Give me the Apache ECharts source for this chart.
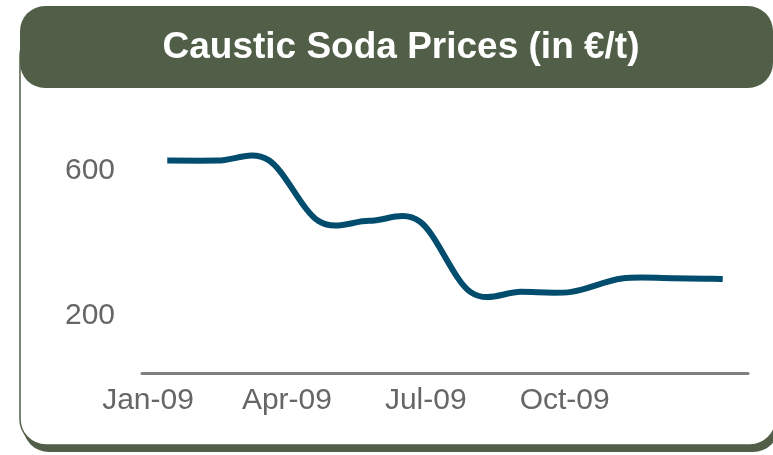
<!DOCTYPE html>
<html lang="en">
<head>
    <meta charset="UTF-8">
    <title>Caustic Soda Prices</title>
    <script src="https://cdn.jsdelivr.net/npm/echarts@6/dist/echarts.min.js"></script>
    <style>
        html, body { margin: 0; padding: 0; background: #fff; }
        #chart { width: 773px; height: 455px; }
    </style>
</head>
<body>
    <div id="chart"></div>
    <script>
        // monthly prices, Jan-09 .. Dec-09 (€/t)
        const months = ['Jan-09','Feb-09','Mar-09','Apr-09','May-09','Jun-09','Jul-09','Aug-09','Sep-09','Oct-09','Nov-09','Dec-09'];
        const prices = [629, 629, 631, 461, 462, 460, 265, 265, 265, 302, 303, 301];
        // axis labels
        const xTickLabels = ['Jan-09','Apr-09','Jul-09','Oct-09'];
        const xTickMonths = [0, 3, 6, 9];
        const yTicks = [200, 600];

        const green = '#525f48';
        const font = '"Liberation Sans", Arial, sans-serif';

        // excel style smoothed line (catmull-rom, 1/6 tangents) through the axis coords
        function renderSmooth(params, api) {
            if (params.dataIndex !== 0) return null;
            const pts = prices.map((p, i) => api.coord([i, p]));
            const n = pts.length;
            let d = 'M' + pts[0][0] + ',' + pts[0][1];
            for (let i = 0; i < n - 1; i++) {
                const p0 = pts[Math.max(i - 1, 0)], p1 = pts[i], p2 = pts[i + 1], p3 = pts[Math.min(i + 2, n - 1)];
                const c1 = [p1[0] + (p2[0] - p0[0]) / 6, p1[1] + (p2[1] - p0[1]) / 6];
                const c2 = [p2[0] - (p3[0] - p1[0]) / 6, p2[1] - (p3[1] - p1[1]) / 6];
                d += ' C' + c1.join(',') + ' ' + c2.join(',') + ' ' + p2.join(',');
            }
            return {
                type: 'path',
                shape: { pathData: d },
                style: { fill: null, stroke: '#024d6e', lineWidth: 6, lineJoin: 'round' }
            };
        }

        const chart = echarts.init(document.getElementById('chart'));
        chart.setOption({
            animation: false,
            grid: { left: 142, right: 25, top: 135, bottom: 82 },
            graphic: [
                // shadow under body box
                { type: 'rect', z: -3, shape: { x: 23, y: 30, width: 756, height: 422, r: 26 }, style: { fill: green } },
                // body box
                { type: 'rect', z: -2, shape: { x: 20, y: 30, width: 756, height: 415, r: 26 }, style: { fill: '#fff', stroke: green, lineWidth: 1.5 } },
                // header
                { type: 'rect', z: -1, shape: { x: 20, y: 6, width: 753, height: 82, r: 25 }, style: { fill: green } },
                {
                    type: 'text', x: 401, y: 48, z: 5,
                    style: {
                        text: 'Caustic Soda Prices (in €/t)', fill: '#fff', font: 'bold 37px ' + font,
                        align: 'center', verticalAlign: 'middle'
                    }
                }
            ],
            xAxis: [
                {
                    type: 'value', min: -0.5, max: 11.5,
                    axisLine: { show: true, onZero: false, lineStyle: { color: '#7f7f7f', width: 3 } },
                    axisTick: { show: false }, axisLabel: { show: false }, splitLine: { show: false }
                },
                {
                    type: 'value', position: 'bottom', min: -0.13, max: 12.96,
                    axisLine: { show: false }, axisTick: { show: false }, splitLine: { show: false },
                    axisLabel: {
                        customValues: xTickMonths,
                        formatter: v => xTickLabels[xTickMonths.indexOf(Math.round(v))] || '',
                        color: '#666', fontSize: 30, fontFamily: font, margin: 13
                    }
                }
            ],
            yAxis: {
                type: 'value', min: 40, max: 700,
                axisLine: { show: false }, axisTick: { show: false }, splitLine: { show: false },
                axisLabel: {
                    customValues: yTicks,
                    color: '#666', fontSize: 30, fontFamily: font, margin: 27
                }
            },
            series: [{
                type: 'custom',
                xAxisIndex: 0,
                data: prices.map((p, i) => [i, p]),
                encode: { x: 0, y: 1 },
                renderItem: renderSmooth
            }]
        });
    </script>
</body>
</html>
